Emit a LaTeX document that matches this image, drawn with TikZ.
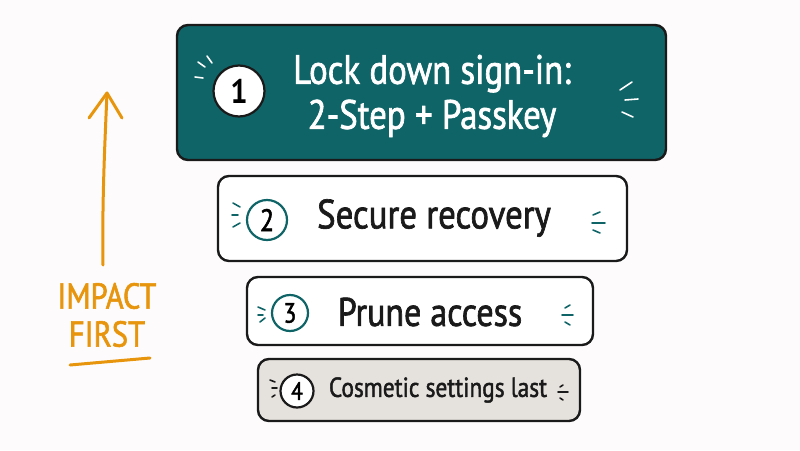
\documentclass[tikz,border=0pt]{standalone}
\usepackage{fontspec}
\newfontfamily\hand[FakeStretch=0.85,FakeBold=1.6]{PT Sans}
\newfontfamily\handb[FakeStretch=0.9]{PT Sans Bold}
\definecolor{teal1}{HTML}{0F6467}
\definecolor{ink}{HTML}{1A1A1A}
\definecolor{orng}{HTML}{E8950E}
\definecolor{gray1}{HTML}{E5E1DD}
\definecolor{bg}{HTML}{FDFBFB}
\begin{document}
\begin{tikzpicture}[x=1pt,y=-1pt,
  card/.style={draw=ink,line width=2.4pt,rounded corners=11pt},
  num/.style={circle,draw=ink,fill=white,line width=2.2pt,inner sep=0pt},
  tick/.style={line width=1.6pt,line cap=round},
  lbl/.style={font=\hand,align=center,inner sep=0pt}]
\fill[bg] (0,0) rectangle (800,450);
\useasboundingbox (0,0) rectangle (800,450);
% box 1
\draw[card,fill=teal1] (177,25) rectangle (666,160);
\node[num,minimum size=51pt,font=\handb\fontsize{34}{34}\selectfont] (n1) at (239,91) {1};
\node[lbl,text=white,font=\hand\fontsize{41}{45}\selectfont] (t1) at (432,96) {Lock down sign-in:\\2-Step + Passkey};
\draw[tick,white] (198,62)--(205,67) (207,56)--(212,63) (195,77)--(203,78);
\draw[tick,white] (620,90)--(632,82) (625,100)--(638,99) (622,112)--(633,117);
% box 2
\draw[card,fill=white] (218,176) rectangle (627,261);
\node[num,draw=teal1,minimum size=40pt,font=\hand\fontsize{31}{31}\selectfont] (n2) at (267,220) {2};
\node[lbl,text=ink,font=\hand\fontsize{41}{41}\selectfont] (t2) at (434,218) {Secure recovery};
\draw[tick,teal1] (233,203)--(240,207) (232,215)--(238,215) (233,227)--(240,223);
\draw[tick,teal1] (593,215)--(600,212) (592,223)--(605,223) (593,230)--(600,233);
% box 3
\draw[card,fill=white] (247,277) rectangle (593,345);
\node[num,draw=teal1,minimum size=36pt,font=\hand\fontsize{28}{28}\selectfont] (n3) at (290,313) {3};
\node[lbl,text=ink,font=\hand\fontsize{40}{40}\selectfont] (t3) at (430,312) {Prune access};
\draw[tick,teal1] (258,307)--(265,310) (258,315)--(263,315) (260,322)--(265,318);
\draw[tick,teal1] (565,308)--(570,305) (562,315)--(573,315) (565,322)--(570,325);
% box 4
\draw[card,fill=gray1] (258,359) rectangle (580,421);
\node[num,minimum size=33pt,font=\hand\fontsize{25}{25}\selectfont] (n4) at (297,391) {4};
\node[lbl,text=ink,font=\hand\fontsize{27.5}{27.5}\selectfont] (t4) at (438,390) {Cosmetic settings last};
\draw[tick,ink] (270,380)--(275,382) (272,388)--(277,388) (272,397)--(275,395);
\draw[tick,ink] (560,387)--(563,385) (558,392)--(568,392) (560,398)--(563,400);
% impact arrow
\coordinate (a0) at (103,265);
\coordinate (a1) at (107,93);
\draw[orng,line width=3pt,line cap=round,line join=round] (a0) .. controls (102,200) and (105,140) .. (a1);
\draw[orng,line width=3pt,line cap=round,line join=round] (89,118)--(a1)--(122,118);
\node[lbl,text=orng,font=\hand\fontsize{36}{38}\selectfont] (imp) at (107,315) {IMPACT\\FIRST};
\coordinate (u0) at (70,365);
\coordinate (u1) at (150,358);
\draw[orng,line width=3pt,line cap=round] (u0)--(u1);
\end{tikzpicture}
\end{document}
